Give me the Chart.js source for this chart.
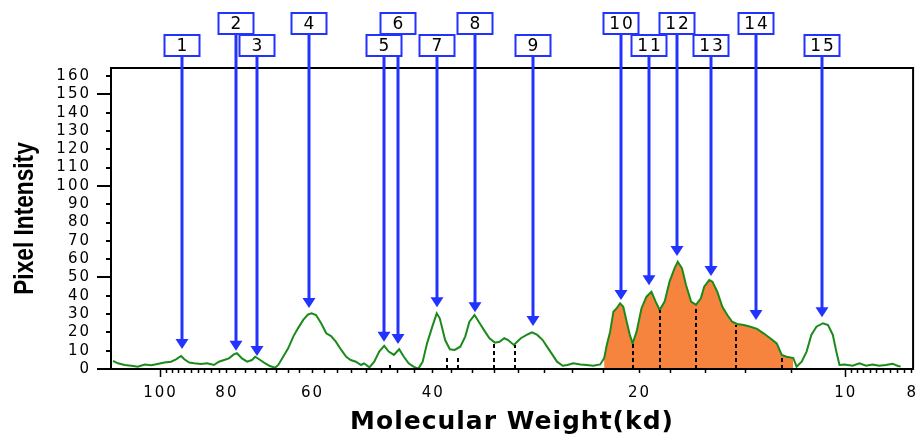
<!DOCTYPE html>
<html>
<head>
<meta charset="utf-8">
<title>Pixel Intensity vs Molecular Weight</title>
<script src="https://cdn.jsdelivr.net/npm/chart.js@4.4.1/dist/chart.umd.min.js"></script>
<style>
  html, body { margin: 0; padding: 0; background: #fff; }
  #chart { display: block; }
</style>
</head>
<body>
<canvas id="chart" width="923" height="441"></canvas>
<script>
// densitometry trace (kd, pixel intensity)
const molWeight = [
  116.9, 115.0, 112.4, 109.9, 107.6, 105.1, 102.8, 100.7, 98.35, 96.2,
  94.6, 93.0, 92.0, 90.5, 89.0, 87.0, 85.2, 83.3, 81.9, 80.5,
  79.2, 77.9, 77.1, 75.8, 74.5, 73.3, 72.5, 71.3, 70.1, 69.0,
  67.8, 67.1, 66.0, 64.9, 63.8, 62.8, 61.7, 60.7, 60.0, 59.1,
  58.1, 57.1, 56.2, 55.3, 54.3, 53.4, 52.6, 51.7, 50.8, 50.3,
  49.4, 48.6, 47.8, 47.0, 46.3, 45.5, 44.7, 44.0, 43.3, 42.6,
  41.9, 41.3, 40.7, 40.0, 39.4, 39.0, 38.3, 37.7, 37.1, 36.4,
  35.8, 35.3, 34.7, 34.1, 33.5, 33.0, 32.4, 31.9, 31.4, 31.0,
  30.4, 29.7, 29.0, 28.6, 28.1, 27.6, 27.2, 26.7, 26.3, 25.8,
  25.4, 24.9, 24.3, 23.8, 23.3, 22.75, 22.45, 22.25, 22.00, 21.76,
  21.52, 21.28, 21.05, 20.81, 20.59, 20.40, 20.13, 19.80, 19.47, 19.15,
  18.88, 18.63, 18.32, 18.02, 17.72, 17.53, 17.28, 17.05, 16.76, 16.49,
  16.22, 16.04, 15.77, 15.60, 15.35, 15.09, 14.84, 14.60, 14.36, 14.04,
  13.73, 13.43, 13.14, 12.85, 12.57, 12.36, 12.16, 11.89, 11.76, 11.56,
  11.37, 11.19, 11.00, 10.76, 10.58, 10.41, 10.29, 10.18, 10.01, 9.74,
  9.52, 9.31, 9.11, 8.91, 8.71, 8.52, 8.38, 8.29
];
const intensity = [
  4.4, 3.1, 2.2, 1.8, 1.3, 2.5, 2.0, 2.7, 3.5, 4.0,
  5.3, 7.1, 5.3, 3.5, 3.1, 2.7, 3.1, 2.2, 4.0, 4.9,
  5.8, 8.0, 8.6, 5.8, 4.0, 4.9, 6.7, 4.9, 3.1, 1.6,
  0.7, 2.2, 6.7, 11.3, 17.7, 22.2, 26.8, 29.8, 30.4, 29.5,
  25.0, 19.5, 18.0, 14.9, 10.4, 6.7, 4.9, 4.0, 2.2, 3.1,
  0.9, 4.0, 9.5, 12.6, 9.5, 7.7, 10.8, 6.7, 3.1, 1.3,
  0.2, 4.0, 14.0, 23.0, 30.4, 27.7, 15.8, 10.8, 10.4, 12.2,
  17.7, 25.8, 29.5, 25.0, 20.4, 16.8, 14.4, 14.9, 16.8, 15.8,
  13.1, 16.8, 19.0, 20.0, 18.6, 15.8, 12.2, 7.7, 4.0, 1.8,
  2.2, 3.1, 2.5, 2.2, 1.8, 2.5, 5.8, 13.1, 20.4, 31.3,
  33.2, 35.9, 34.0, 25.8, 18.6, 14.0, 20.4, 33.2, 39.5, 42.2,
  36.8, 32.2, 36.8, 47.7, 55.0, 58.6, 55.0, 45.9, 36.8, 35.0,
  38.6, 45.0, 48.6, 47.7, 42.2, 34.0, 29.5, 25.8, 24.6, 24.0,
  23.1, 21.9, 19.5, 16.8, 14.0, 7.7, 6.7, 6.0, 1.3, 4.0,
  9.5, 18.6, 23.1, 25.0, 24.0, 18.6, 9.5, 2.2, 2.5, 1.8,
  3.1, 1.8, 2.5, 1.8, 2.2, 2.9, 1.8, 1.3
];

// labelled bands: arrow position (kd) and where the arrow tip sits
const peakLabels = ['1', '2', '3', '4', '5', '6', '7', '8', '9', '10', '11', '12', '13', '14', '15'];
const peakWeight = [92.7, 77.4, 72.1, 60.6, 47.0, 44.9, 39.3, 34.6, 28.5, 21.2, 19.3, 17.6, 15.7, 13.46, 10.8];
const peakTip = [10.9, 10.0, 7.1, 33.3, 14.9, 13.7, 33.7, 31.0, 23.5, 37.7, 45.7, 61.7, 50.8, 26.8, 28.2];

// dashed band boundaries
const bandEdges = [46.1, 38.0, 36.7, 32.5, 30.3, 20.4, 18.6, 16.5, 14.42, 12.33];
const bandEdgeHeight = [2.2, 7.7, 7.7, 14.2, 13.1, 14.9, 32.2, 34.0, 24.0, 6.7];

// shaded (selected) region, kd
const shadedFrom = 22.45;
const shadedTo = 11.85;

const xTickLabels = [100, 80, 60, 40, 20, 10, 8];
const yTickLabels = [0, 10, 20, 30, 40, 50, 60, 70, 80, 90, 100, 110, 120, 130, 140, 150, 160];

// minor ticks on the weight axis
const xMinorTicks = [];
for (let v = 98; v > 80.5; v -= 2) xMinorTicks.push(v);
for (let v = 80; v > 20.5; v -= 2.5) xMinorTicks.push(v);
for (let v = 20; v > 10.5; v -= 2) xMinorTicks.push(v);
for (let v = 9.8; v > 7.95; v -= 0.2) xMinorTicks.push(+v.toFixed(1));

const tracePoints = molWeight.map((mw, i) => ({ x: mw, y: intensity[i] }));
const shadedPoints = tracePoints.filter(p => p.x <= shadedFrom && p.x >= shadedTo);

const tickFont = { family: '"DejaVu Sans", sans-serif', size: 15 };

// wrap one of a scale's draw steps so it runs with a tweaked context
function patchScale(scale, key, tweak) {
  if (scale['_p_' + key]) return;
  const orig = scale[key];
  scale[key] = function (...args) {
    const c = this.ctx;
    c.save();
    tweak(c, this);
    orig.apply(this, args);
    c.restore();
  };
  scale['_p_' + key] = true;
}

const gelMarks = {
  id: 'gelMarks',
  afterDatasetsDraw(chart) {
    const { ctx, scales: { x, y } } = chart;
    ctx.save();
    ctx.strokeStyle = '#000';
    ctx.lineWidth = 2;
    ctx.setLineDash([4, 3]);
    bandEdges.forEach((mw, i) => {
      const px = Math.round(x.getPixelForValue(mw));
      ctx.beginPath();
      ctx.moveTo(px, y.getPixelForValue(0));
      ctx.lineTo(px, y.getPixelForValue(bandEdgeHeight[i]));
      ctx.stroke();
    });
    ctx.restore();
  },
  afterDraw(chart) {
    const { ctx, chartArea: a, scales: { x, y } } = chart;
    ctx.save();

    // frame
    ctx.strokeStyle = '#000';
    ctx.lineWidth = 2;
    ctx.strokeRect(a.left, a.top, a.right - a.left, a.bottom - a.top);

    // y ticks
    yTickLabels.forEach(v => {
      const py = Math.round(y.getPixelForValue(v));
      const len = v % 50 === 0 ? 14 : 5;
      ctx.beginPath();
      ctx.moveTo(a.left - len, py);
      ctx.lineTo(a.left, py);
      ctx.stroke();
    });

    // x ticks
    ctx.lineWidth = 1.5;
    [100, 10].concat(xMinorTicks).forEach(v => {
      const px = Math.round(x.getPixelForValue(v)) + 0.5;
      const len = (v === 100 || v === 10) ? 8 : 4;
      ctx.beginPath();
      ctx.moveTo(px, a.bottom);
      ctx.lineTo(px, a.bottom + len);
      ctx.stroke();
    });

    // arrows
    const blue = '#2233ff';
    const boxW = 35, boxH = 21;
    const rowTop = i => (i % 2 === 0 ? 35 : 13);
    ctx.strokeStyle = blue;
    ctx.fillStyle = blue;
    ctx.lineWidth = 3;
    peakWeight.forEach((mw, i) => {
      const px = Math.round(x.getPixelForValue(mw));
      const tip = y.getPixelForValue(peakTip[i]);
      ctx.beginPath();
      ctx.moveTo(px, rowTop(i) + boxH);
      ctx.lineTo(px, tip - 8);
      ctx.stroke();
      ctx.beginPath();
      ctx.moveTo(px - 6.5, tip - 10);
      ctx.lineTo(px + 6.5, tip - 10);
      ctx.lineTo(px, tip);
      ctx.closePath();
      ctx.fill();
    });

    // label boxes
    ctx.lineWidth = 2;
    ctx.font = '17px "DejaVu Sans", sans-serif';
    ctx.letterSpacing = '2px';
    ctx.textAlign = 'center';
    ctx.textBaseline = 'middle';
    peakWeight.forEach((mw, i) => {
      const px = Math.round(x.getPixelForValue(mw));
      const top = rowTop(i);
      ctx.fillStyle = '#fff';
      ctx.fillRect(px - boxW / 2, top, boxW, boxH);
      ctx.strokeStyle = blue;
      ctx.strokeRect(px - boxW / 2, top, boxW, boxH);
      ctx.fillStyle = '#000';
      ctx.fillText(peakLabels[i], px + 1, top + boxH / 2 + 1);
    });

    ctx.restore();
  }
};

new Chart(document.getElementById('chart'), {
  type: 'line',
  data: {
    datasets: [
      {
        label: 'Pixel Intensity',
        data: tracePoints,
        borderColor: '#1a8a1a',
        borderWidth: 2,
        pointRadius: 0,
        tension: 0,
        fill: false
      },
      {
        label: 'Selected bands',
        data: shadedPoints,
        borderWidth: 0,
        borderColor: 'rgba(0,0,0,0)',
        backgroundColor: '#f7843e',
        pointRadius: 0,
        tension: 0,
        fill: 'origin'
      }
    ]
  },
  options: {
    responsive: false,
    animation: false,
    layout: { padding: { top: 68, right: 2, left: 0, bottom: 0 } },
    plugins: {
      legend: { display: false },
      tooltip: { enabled: false }
    },
    scales: {
      x: {
        type: 'logarithmic',
        reverse: true,
        min: 7.95,
        max: 117.7,
        bounds: 'data',
        grid: { display: false, tickLength: 8 },
        border: { display: false },
        ticks: {
          padding: 7,
          autoSkip: false,
          maxRotation: 0,
          font: tickFont,
          color: '#000',
          callback: v => String(v)
        },
        afterBuildTicks: s => { s.ticks = xTickLabels.map(v => ({ value: v })); },
        afterFit: s => {
          s.height = 72;
          patchScale(s, 'drawLabels', c => { c.letterSpacing = '2px'; c.translate(1, 0); });
          patchScale(s, 'drawTitle', c => { c.letterSpacing = '1px'; });
        },
        title: {
          display: true,
          text: 'Molecular Weight(kd)',
          color: '#000',
          font: { family: '"DejaVu Sans", sans-serif', size: 25, weight: 'bold' },
          padding: { top: 0, bottom: 4 }
        }
      },
      y: {
        min: 0,
        max: 164.4,
        grid: { display: false, tickLength: 14 },
        border: { display: false },
        ticks: {
          padding: 8,
          autoSkip: false,
          font: tickFont,
          color: '#000'
        },
        afterBuildTicks: s => { s.ticks = yTickLabels.map(v => ({ value: v })); },
        afterFit: s => {
          s.width = 111;
          patchScale(s, 'drawLabels', c => { c.letterSpacing = '2px'; c.translate(2, 0); });
          // the original title is a tall, narrow face: squeeze it along its run
          patchScale(s, 'drawTitle', (c, sc) => {
            const cy = (sc.top + sc.bottom) / 2;
            c.translate(0, cy);
            c.scale(1, 0.84);
            c.translate(0, -cy);
          });
        },
        title: {
          display: true,
          text: 'Pixel Intensity',
          color: '#000',
          font: { family: '"Liberation Sans", Arial, sans-serif', size: 27, weight: 'bold' },
          padding: { top: 9, bottom: 0 }
        }
      }
    }
  },
  plugins: [gelMarks]
});
</script>
</body>
</html>
